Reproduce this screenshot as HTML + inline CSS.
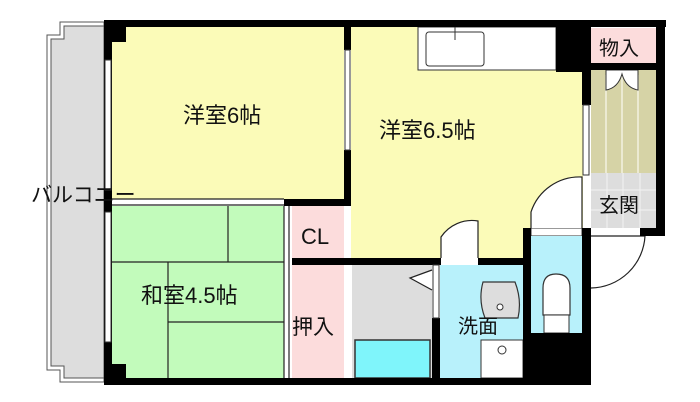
<!DOCTYPE html>
<html><head><meta charset="utf-8"><style>
html,body{margin:0;padding:0;background:#fff;width:700px;height:402px;overflow:hidden}
svg{display:block}
text{font-family:"Liberation Sans","Noto Sans CJK JP",sans-serif;fill:#111}
</style></head><body>
<svg width="700" height="402" viewBox="0 0 700 402" xmlns="http://www.w3.org/2000/svg">
<!-- balcony -->
<path d="M60,22 H104 V382 H60 V370 H47 V35 H60 Z" fill="#fff" stroke="#555" stroke-width="1"/>
<path d="M64,26 H104 V378 H64 V366 H51 V39 H64 Z" fill="#ddd" stroke="#555" stroke-width="1"/>
<!-- rooms -->
<rect x="112" y="27" width="232" height="172" fill="#fbfbb8"/>
<rect x="112" y="206" width="172" height="172" fill="#c2fbbb"/>
<rect x="292" y="206" width="52" height="52" fill="#fcdcdc"/>
<rect x="292" y="265" width="52" height="113" fill="#fcdcdc"/>
<rect x="351" y="27" width="232" height="231" fill="#fbfbb8"/>
<rect x="418" y="27" width="138" height="43" fill="#fff" stroke="#333" stroke-width="1"/>
<rect x="426" y="32" width="58" height="34" rx="3" fill="#fff" stroke="#333" stroke-width="1"/>
<line x1="455" y1="27" x2="455" y2="40" stroke="#333"/>
<rect x="591" y="28" width="65" height="35" fill="#fcdcdc"/>
<rect x="591" y="70" width="65" height="103" fill="#d6d3a6"/>
<g stroke="#f4f2e0" stroke-width="1.5"><line x1="606" y1="75" x2="606" y2="173"/><line x1="622" y1="75" x2="622" y2="173"/><line x1="638" y1="75" x2="638" y2="173"/></g>
<g stroke="#333" stroke-width="1" fill="#fff">
<path d="M606,70 V90 Q618,88 622,74 Q626,88 638,90 V70 Z"/>
</g>
<rect x="591" y="173" width="65" height="55" fill="#ddd"/>
<g stroke="#f2f2f2" stroke-width="1"><line x1="591" y1="190" x2="656" y2="190"/><line x1="591" y1="210" x2="656" y2="210"/><line x1="607" y1="173" x2="607" y2="228"/><line x1="623" y1="173" x2="623" y2="228"/><line x1="640" y1="173" x2="640" y2="228"/></g>
<rect x="352" y="265" width="80" height="113" fill="#ddd"/>
<rect x="355" y="340" width="75" height="38" fill="#7ff5fb" stroke="#333" stroke-width="1.5"/>
<rect x="440" y="265" width="83" height="113" fill="#b8f1fb"/>
<path d="M483,282 Q478,300 485,318 L518,318 Q522,300 515,282 Z" fill="#ddd" stroke="#333" stroke-width="1.2"/>
<circle cx="500" cy="307" r="3" fill="#fff" stroke="#333"/>
<rect x="481" y="340" width="42" height="38" fill="#fff" stroke="#333" stroke-width="1"/>
<circle cx="502" cy="350" r="4" fill="#fff" stroke="#333"/>
<rect x="531" y="228" width="51" height="8" fill="#fff" stroke="#333" stroke-width="1"/>
<rect x="531" y="236" width="51" height="97" fill="#b8f1fb"/>
<path d="M543,315 L543,288 Q543,274 556,274 Q570,274 570,288 L570,315 Z" fill="#fff" stroke="#333" stroke-width="1.2"/>
<rect x="544" y="315" width="25" height="18" fill="#fff" stroke="#333" stroke-width="1"/>
<!-- tatami lines -->
<g stroke="#222" stroke-width="1.2" fill="none">
<line x1="112" y1="262" x2="284" y2="262"/><line x1="228" y1="206" x2="228" y2="262"/>
<line x1="168" y1="262" x2="168" y2="378"/><line x1="168" y1="322" x2="284" y2="322"/>
<line x1="284" y1="206" x2="284" y2="378"/><line x1="289" y1="206" x2="289" y2="378"/>
<line x1="112" y1="199" x2="284" y2="199"/><line x1="112" y1="205" x2="284" y2="205"/>
<!-- doors -->
<path d="M441,258 V237 A37,37 0 0 1 478,221 V258" fill="#fff"/>
<path d="M531,228 V212 A51,51 0 0 1 582,177 V228" fill="#fff"/>
<path d="M591,236 H645 A55,55 0 0 1 591,288" fill="#fff"/>
<path d="M432,270 L410,278 L432,290" fill="#fff"/>
</g>
<!-- walls -->
<g fill="#000">
<rect x="104" y="20" width="562" height="7"/>
<rect x="104" y="20" width="8" height="365"/>
<rect x="104" y="378" width="486" height="7"/>
<rect x="104" y="20" width="22" height="22"/>
<rect x="104" y="364" width="22" height="21"/>
<rect x="344" y="20" width="7" height="30"/>
<rect x="344" y="150" width="7" height="56"/>
<rect x="284" y="199" width="67" height="7"/>
<rect x="292" y="258" width="59" height="7"/>
<rect x="344" y="258" width="97" height="7"/>
<rect x="478" y="258" width="53" height="7"/>
<rect x="432" y="318" width="8" height="60"/>
<rect x="523" y="228" width="8" height="157"/>
<rect x="523" y="333" width="67" height="52"/>
<rect x="556" y="20" width="27" height="52"/>
<rect x="582" y="20" width="9" height="85"/>
<rect x="582" y="228" width="9" height="157"/>
<rect x="656" y="20" width="9" height="216"/>
<rect x="591" y="63" width="65" height="7"/>
<rect x="640" y="228" width="25" height="8"/>
</g>
<g stroke="#333" stroke-width="1" fill="#fff">
<rect x="105" y="60" width="6" height="130"/><rect x="105" y="212" width="6" height="130"/>
<rect x="345" y="50" width="5" height="100"/><rect x="583" y="105" width="6" height="70"/>
<rect x="433" y="265" width="6" height="53"/>
</g>
<!-- labels -->
<text x="183" y="123" font-size="22">洋室6帖</text>
<text x="379" y="138" font-size="22">洋室6.5帖</text>
<text x="141" y="303" font-size="22">和室4.5帖</text>
<text x="301" y="244" font-size="22">CL</text>
<text x="292" y="334" font-size="21">押入</text>
<text x="599" y="55" font-size="20">物入</text>
<text x="599" y="212" font-size="20">玄関</text>
<text x="458" y="333" font-size="20">洗面</text>
<text x="31" y="202" font-size="21">バルコニー</text>
</svg>
</body></html>
